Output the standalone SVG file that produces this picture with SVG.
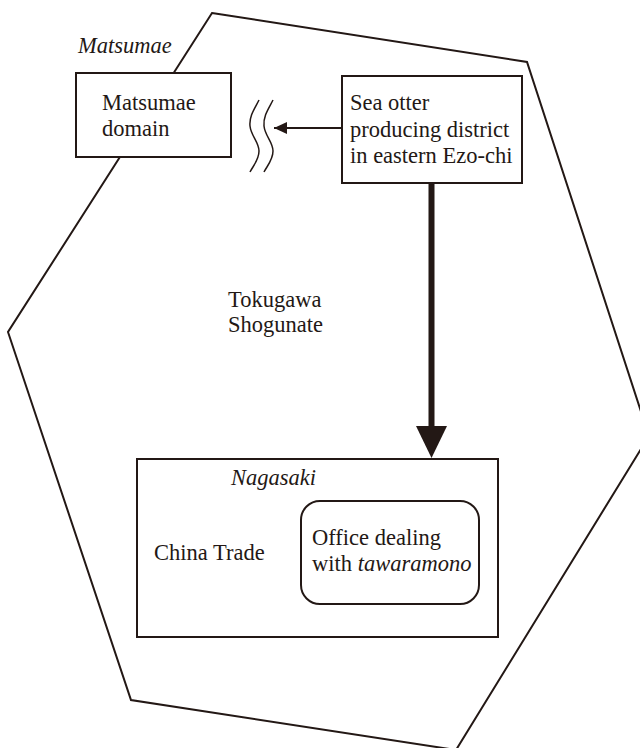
<svg xmlns="http://www.w3.org/2000/svg" width="640" height="748" viewBox="0 0 640 748">
<style>
text{font-family:"Liberation Serif","Times New Roman",serif;font-size:22.5px;fill:#231815}
.it{font-style:italic}
.box{fill:#fff;stroke:#231815;stroke-width:2}
.ln{fill:none;stroke:#231815}
</style>
<defs>
<marker id="ah" markerUnits="userSpaceOnUse" markerWidth="14" markerHeight="12" refX="13" refY="6" orient="auto">
<path d="M0,0 L13,6 L0,12 Z" fill="#231815"/>
</marker>
</defs>
<g id="shogunate">
<polygon class="ln" stroke-width="2" points="212,13 527,62 649,436 456,750 131,700 8,332"/>
<text x="228" y="307">Tokugawa</text>
<text x="228" y="332">Shogunate</text>
</g>
<g id="matsumae">
<text class="it" x="78" y="53">Matsumae</text>
<rect class="box" x="76" y="73" width="155" height="84"/>
<text x="102" y="110">Matsumae</text>
<text x="102" y="136">domain</text>
</g>
<g id="seaotter">
<rect class="box" x="342" y="76" width="180" height="107"/>
<text x="350" y="110">Sea otter</text>
<text x="350" y="137">producing district</text>
<text x="350" y="163">in eastern Ezo-chi</text>
</g>
<g id="nagasaki">
<rect class="box" x="137" y="459" width="361" height="178"/>
<text class="it" x="231" y="485">Nagasaki</text>
<text x="154" y="560">China Trade</text>
</g>
<g id="office">
<rect class="box" x="301" y="501" width="178" height="103" rx="19" ry="19"/>
<text x="312" y="545">Office dealing</text>
<text x="312" y="571">with <tspan class="it">tawaramono</tspan></text>
</g>
<g id="connectors">
<path class="ln" stroke-width="1.5" d="M259,100 C255,108 249,116 250,126 C251,136 259,142 259,151 C259,160 253,166 250,172"/>
<path class="ln" stroke-width="1.5" d="M273,100 C269,108 263,116 264,126 C265,136 273,142 273,151 C273,160 267,166 264,172"/>
<line class="ln" stroke-width="2.2" x1="342" y1="128" x2="274" y2="128" marker-end="url(#ah)"/>
<line class="ln" stroke-width="6" x1="431.5" y1="183" x2="431.5" y2="428"/>
<polygon points="416,426 447,426 431.5,458" fill="#231815"/>
</g>
</svg>
